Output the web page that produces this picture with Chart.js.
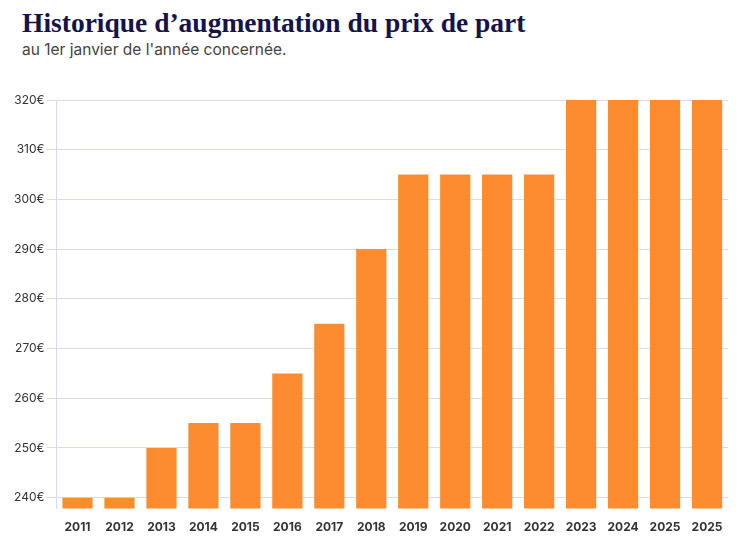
<!DOCTYPE html>
<html>
<head>
<meta charset="utf-8">
<script src="https://cdn.jsdelivr.net/npm/chart.js@4/dist/chart.umd.min.js"></script>
<style>
    html, body { margin: 0; padding: 0; background: #fff; }
    #wrap { position: relative; width: 741px; height: 544px; }
    #titre {
        position: absolute; left: 22px; top: 7px; margin: 0;
        font-family: "Liberation Serif", serif; font-weight: bold; font-size: 27.5px;
        color: #16134a; white-space: nowrap;
    }
    #sous-titre {
        position: absolute; left: 22px; top: 40px; margin: 0;
        font-family: Inter, sans-serif; font-size: 15.5px; color: #444; white-space: nowrap;
    }
    canvas { position: absolute; left: 0; top: 0; }
</style>
</head>
<body>
<div id="wrap">
    <h1 id="titre">Historique d’augmentation du prix de part</h1>
    <p id="sous-titre">au 1er janvier de l'année concernée.</p>
    <canvas id="prixChart" width="741" height="544"></canvas>
</div>
<script>
const annees = ["2011", "2012", "2013", "2014", "2015", "2016", "2017", "2018",
    "2019", "2020", "2021", "2022", "2023", "2024", "2025", "2025"];
const prixPart = [240, 240, 250, 255, 255, 265, 275, 290, 305, 305, 305, 305, 320, 320, 320, 320];
const graduations = [240, 250, 260, 270, 280, 290, 300, 310, 320];

document.addEventListener("DOMContentLoaded", function () {
    const ctx = document.getElementById("prixChart").getContext("2d");
    const lavande = "#d9d9f3";

    new Chart(ctx, {
        type: "bar",
        data: {
            labels: annees,
            datasets: [{
                label: "Prix de part",
                data: prixPart,
                backgroundColor: "#fd8c30",
                barPercentage: 0.72,
                categoryPercentage: 1,
            }],
        },
        options: {
            responsive: false,
            animation: false,
            layout: { padding: { top: 100, left: 12, right: 13, bottom: -3 } },
            plugins: {
                legend: { display: false },
                tooltip: { enabled: false },
            },
            scales: {
                x: {
                    grid: { display: false, drawTicks: false },
                    border: { display: false },
                    ticks: {
                        padding: 12,
                        color: "#333",
                        font: { family: "Inter", size: 12, weight: "bold" },
                    },
                },
                y: {
                    min: 237.8,
                    max: 320,
                    afterBuildTicks: function (axis) {
                        axis.ticks = graduations.map(v => ({ value: v }));
                    },
                    grid: { color: lavande, tickLength: 10 },
                    border: { color: lavande },
                    ticks: {
                        padding: 2,
                        color: "#333",
                        font: { family: "Inter", size: 12 },
                        callback: v => v + "€",
                    },
                },
            },
        },
    });
});
</script>
</body>
</html>
